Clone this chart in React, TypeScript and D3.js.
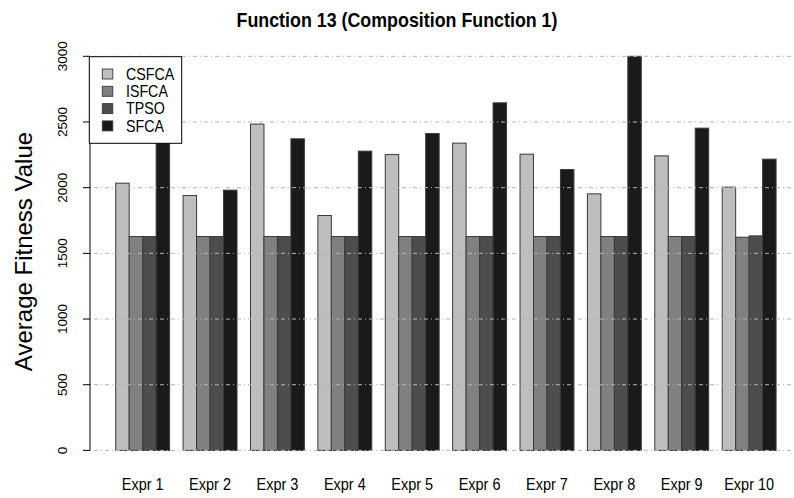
import React from "react";
import * as d3 from "d3";

const categories = ["Expr 1", "Expr 2", "Expr 3", "Expr 4", "Expr 5", "Expr 6", "Expr 7", "Expr 8", "Expr 9", "Expr 10"];
const seriesNames = ["CSFCA", "ISFCA", "TPSO", "SFCA"];
const CSFCA = [2034, 1940, 2484, 1788, 2252, 2339, 2255, 1953, 2242, 2004];
const ISFCA = [1628, 1628, 1628, 1628, 1628, 1628, 1628, 1628, 1628, 1623];
const TPSO = [1628, 1628, 1628, 1628, 1628, 1628, 1628, 1628, 1628, 1633];
const SFCA = [2650, 1981, 2372, 2278, 2412, 2646, 2138, 3000, 2453, 2217];
const yTicks = [0, 500, 1000, 1500, 2000, 2500, 3000];
const colors = ["#bebebe", "#808080", "#4d4d4d", "#1a1a1a"];

const W = 794;
const H = 498;

export default function App() {
  const series = [CSFCA, ISFCA, TPSO, SFCA];
  const nUnits = categories.length * (seriesNames.length + 1);
  const x = d3.scaleLinear().domain([-0.96, nUnits + 1.96]).range([89.3, 802.5]);
  const y = d3.scaleLinear().domain([0, 3000]).range([450.4, 56.3]);
  const unit = x(1) - x(0);
  const plotLeft = 90;

  return (
    <svg width={W} height={H} style={{ position: "absolute", left: 0, top: 0, background: "#fff" }}
      fontFamily="'Liberation Sans', Arial, Helvetica, sans-serif">
      <rect x={0} y={0} width={W} height={H} fill="#fff" />
      {categories.map((c, i) =>
        series.map((s, j) => {
          const u = 1 + i * (seriesNames.length + 1) + j;
          return (
            <rect key={c + j} x={x(u)} y={y(s[i])} width={unit} height={y(0) - y(s[i])}
              fill={colors[j]} stroke="#3a3a3a" strokeWidth={1} />
          );
        })
      )}
      {yTicks.map((t) => (
        <line key={"g" + t} x1={plotLeft} x2={W} y1={y(t)} y2={y(t)} stroke="#b4b4b4"
          strokeWidth={1} strokeDasharray="1,3,4,3" />
      ))}
      <line x1={plotLeft} x2={plotLeft} y1={y(0)} y2={y(3000)} stroke="#000" strokeWidth={1} />
      {yTicks.map((t) => (
        <g key={"t" + t}>
          <line x1={plotLeft - 7} x2={plotLeft} y1={y(t)} y2={y(t)} stroke="#000" strokeWidth={1} />
          <text transform={`translate(67,${y(t)}) rotate(-90)`} textAnchor="middle" fontSize={13.5} fill="#000">
            {t}
          </text>
        </g>
      ))}
      <text transform={`translate(32,${(130 + 373) / 2}) rotate(-90)`} textAnchor="middle" fontSize={24} fill="#000">
        Average Fitness Value
      </text>
      {categories.map((c, i) => (
        <text key={"x" + c} transform={`translate(${x(1 + i * 5 + 2)},490) scale(0.89,1)`} textAnchor="middle"
          fontSize={16.3} fill="#000">
          {c}
        </text>
      ))}
      <text transform="translate(397,26.5) scale(0.85,1)" textAnchor="middle" fontSize={21} fontWeight="bold" fill="#000">
        Function 13 (Composition Function 1)
      </text>
      <rect x={89.3} y={56.7} width={92.4} height={86.6} fill="#fff" stroke="#000" strokeWidth={1} />
      {seriesNames.map((n, j) => {
        const cy = 74 + j * 17.3;
        return (
          <g key={"l" + n}>
            <rect x={102.3} y={cy - 5} width={10.5} height={10} fill={colors[j]} stroke="#3a3a3a" strokeWidth={0.9} />
            <text transform={`translate(126,${cy + 5.8}) scale(0.89,1)`} fontSize={16} fill="#000">{n}</text>
          </g>
        );
      })}
    </svg>
  );
}
